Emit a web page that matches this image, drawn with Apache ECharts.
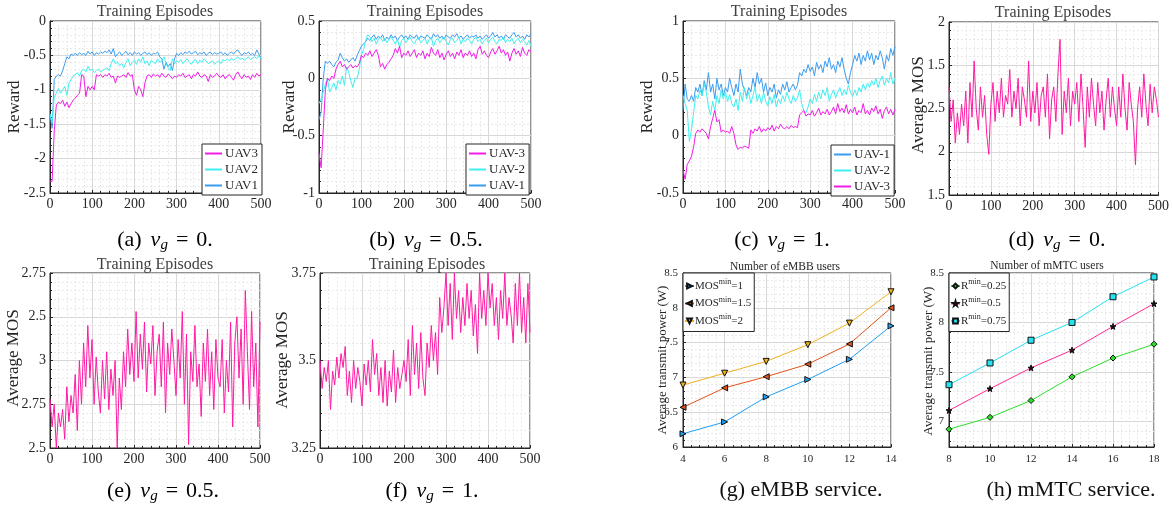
<!DOCTYPE html>
<html>
<head>
<meta charset="utf-8">
<script src="https://cdn.jsdelivr.net/npm/echarts@6/dist/echarts.min.js"></script>
<style>
  html, body { margin: 0; background: #fff; }
  #chart { width: 1172px; height: 512px; }
</style>
</head>
<body>
<div id="chart"></div>
<script>
// ---- data (one value every 5 episodes) ----
var aUav1 = [-1.35,-1.56,-0.85,-0.80,-0.78,-0.80,-0.72,-0.62,-0.52,-0.55,-0.48,
  -0.50,-0.47,-0.50,-0.46,-0.49,-0.47,-0.50,-0.44,-0.48,-0.45,
  -0.50,-0.46,-0.48,-0.45,-0.47,-0.44,-0.46,-0.42,-0.48,-0.40,
  -0.52,-0.48,-0.45,-0.50,-0.47,-0.44,-0.49,-0.46,-0.50,-0.45,
  -0.48,-0.46,-0.50,-0.47,-0.45,-0.49,-0.46,-0.50,-0.47,-0.48,
  -0.45,-0.52,-0.55,-0.70,-0.60,-0.66,-0.62,-0.72,-0.55,-0.47,
  -0.50,-0.46,-0.49,-0.45,-0.47,-0.44,-0.48,-0.46,-0.44,-0.49,
  -0.46,-0.48,-0.45,-0.50,-0.47,-0.45,-0.49,-0.46,-0.48,-0.47,
  -0.45,-0.49,-0.46,-0.50,-0.47,-0.45,-0.48,-0.44,-0.42,-0.47,
  -0.50,-0.46,-0.48,-0.45,-0.49,-0.47,-0.50,-0.42,-0.48,-0.55];
var aUav2 = [-1.35,-1.48,-1.10,-1.05,-0.98,-1.05,-1.00,-0.95,-1.08,-0.90,-0.85,
  -0.80,-0.78,-0.75,-0.80,-0.72,-0.70,-0.74,-0.66,-0.72,-0.70,
  -0.75,-0.72,-0.70,-0.74,-0.72,-0.70,-0.68,-0.72,-0.62,-0.55,
  -0.62,-0.60,-0.65,-0.62,-0.68,-0.60,-0.55,-0.65,-0.60,-0.57,
  -0.63,-0.55,-0.60,-0.52,-0.62,-0.58,-0.65,-0.57,-0.60,-0.62,
  -0.55,-0.60,-0.58,-0.52,-0.62,-0.68,-0.72,-0.55,-0.62,-0.58,
  -0.60,-0.56,-0.62,-0.58,-0.55,-0.60,-0.63,-0.58,-0.56,-0.62,
  -0.57,-0.60,-0.55,-0.58,-0.62,-0.60,-0.58,-0.63,-0.60,-0.58,
  -0.62,-0.56,-0.58,-0.55,-0.58,-0.54,-0.57,-0.55,-0.52,-0.56,
  -0.54,-0.57,-0.55,-0.52,-0.56,-0.54,-0.52,-0.55,-0.50,-0.55];
var aUav3 = [-2.33,-2.33,-1.60,-1.22,-1.18,-1.20,-1.15,-1.24,-1.18,-1.26,-1.20,
  -1.15,-1.12,-1.08,-1.05,-0.78,-0.80,-1.10,-0.95,-1.00,-0.95,
  -1.00,-0.78,-0.80,-0.78,-0.82,-0.78,-0.80,-0.76,-0.82,-0.80,
  -0.90,-0.80,-0.82,-0.80,-0.78,-0.82,-0.75,-0.80,-0.78,-1.00,
  -1.08,-0.95,-1.00,-1.10,-0.90,-0.80,-0.78,-0.82,-0.77,-0.80,
  -0.78,-0.82,-0.76,-0.80,-0.82,-0.77,-0.80,-0.84,-0.80,-0.82,
  -0.78,-0.80,-0.76,-0.82,-0.80,-0.78,-0.84,-0.78,-0.80,-0.74,
  -0.80,-0.82,-0.78,-0.80,-0.88,-0.78,-0.82,-0.80,-0.76,-0.80,
  -0.82,-0.78,-0.84,-0.80,-0.78,-0.82,-0.86,-0.78,-0.74,-0.80,
  -0.84,-0.78,-0.82,-0.80,-0.85,-0.78,-0.82,-0.76,-0.80,-0.78];

var bUav1 = [-0.36,-0.30,0.00,0.15,0.13,0.15,0.12,0.10,0.14,0.16,0.22,
  0.18,0.15,0.17,0.14,0.16,0.18,0.15,0.20,0.24,0.28,
  0.30,0.32,0.35,0.33,0.36,0.38,0.34,0.37,0.35,0.38,
  0.33,0.36,0.34,0.38,0.35,0.37,0.33,0.36,0.38,0.35,
  0.37,0.34,0.38,0.36,0.35,0.38,0.34,0.37,0.36,0.35,
  0.38,0.36,0.34,0.39,0.36,0.38,0.35,0.37,0.34,0.38,
  0.36,0.35,0.38,0.36,0.39,0.35,0.37,0.34,0.36,0.38,
  0.35,0.37,0.36,0.38,0.35,0.37,0.34,0.36,0.38,0.35,
  0.37,0.40,0.36,0.38,0.35,0.37,0.34,0.38,0.36,0.35,
  0.38,0.40,0.36,0.38,0.35,0.37,0.34,0.38,0.36,0.39];
var bUav2 = [-0.22,-0.18,-0.12,-0.05,0.00,-0.12,-0.08,-0.04,-0.10,-0.02,-0.05,
  0.02,-0.06,0.10,0.05,-0.02,-0.08,0.00,0.00,0.08,0.20,
  0.25,0.33,0.38,0.36,0.32,0.35,0.30,0.34,0.36,0.32,
  0.35,0.31,0.34,0.36,0.33,0.30,0.34,0.27,0.33,0.35,
  0.31,0.34,0.36,0.32,0.30,0.34,0.36,0.31,0.33,0.35,
  0.30,0.34,0.36,0.28,0.33,0.35,0.31,0.34,0.36,0.32,
  0.29,0.34,0.35,0.31,0.33,0.36,0.30,0.34,0.32,0.35,
  0.33,0.30,0.34,0.36,0.32,0.34,0.30,0.33,0.35,0.31,
  0.34,0.36,0.32,0.30,0.34,0.33,0.36,0.31,0.34,0.32,
  0.35,0.30,0.33,0.35,0.31,0.34,0.32,0.29,0.33,0.28];
var bUav3 = [-0.65,-0.78,-0.45,-0.10,0.00,-0.02,0.02,0.00,0.08,0.12,0.15,
  0.10,0.12,0.08,0.10,0.12,0.09,0.11,0.10,0.13,0.20,
  0.18,0.22,0.20,0.24,0.19,0.22,0.25,0.20,0.10,0.13,
  0.08,0.12,0.14,0.17,0.20,0.26,0.22,0.28,0.18,0.22,
  0.20,0.24,0.19,0.22,0.25,0.18,0.22,0.20,0.24,0.17,
  0.22,0.19,0.27,0.22,0.20,0.25,0.18,0.22,0.16,0.21,
  0.24,0.19,0.22,0.17,0.23,0.20,0.25,0.18,0.22,0.20,
  0.24,0.19,0.22,0.17,0.25,0.28,0.21,0.24,0.20,0.18,
  0.23,0.26,0.21,0.24,0.28,0.22,0.25,0.20,0.23,0.15,
  0.22,0.26,0.21,0.24,0.19,0.27,0.22,0.20,0.25,0.23];

var cUav1 = [0.22,0.45,0.32,0.30,0.35,0.30,0.42,0.38,0.45,0.35,0.48,
  0.40,0.55,0.38,0.45,0.32,0.50,0.40,0.45,0.35,0.42,
  0.38,0.50,0.42,0.35,0.45,0.38,0.58,0.45,0.40,0.35,
  0.42,0.38,0.50,0.42,0.55,0.45,0.50,0.38,0.46,0.35,
  0.42,0.38,0.45,0.33,0.40,0.36,0.45,0.40,0.47,0.38,
  0.42,0.45,0.40,0.44,0.55,0.52,0.58,0.55,0.62,0.56,
  0.60,0.52,0.64,0.58,0.62,0.55,0.65,0.60,0.68,0.58,
  0.62,0.55,0.65,0.60,0.68,0.58,0.50,0.45,0.55,0.62,
  0.70,0.65,0.72,0.62,0.70,0.65,0.74,0.66,0.72,0.62,
  0.70,0.66,0.74,0.68,0.58,0.70,0.65,0.76,0.70,0.78];
var cUav2 = [0.35,0.28,0.22,-0.05,0.05,0.20,0.35,0.32,0.40,0.35,0.45,
  0.38,0.25,0.18,0.30,0.22,0.35,0.28,0.40,0.32,0.38,
  0.30,0.36,0.28,0.25,0.32,0.22,0.38,0.30,0.42,0.32,
  0.38,0.28,0.35,0.42,0.30,0.36,0.28,0.38,0.30,0.26,
  0.34,0.28,0.36,0.25,0.32,0.28,0.35,0.30,0.38,0.32,
  0.28,0.35,0.30,0.33,0.40,0.28,0.22,0.20,0.25,0.32,
  0.28,0.36,0.30,0.38,0.32,0.40,0.35,0.42,0.30,0.36,
  0.40,0.33,0.38,0.42,0.35,0.40,0.36,0.44,0.38,0.34,
  0.40,0.35,0.42,0.38,0.45,0.40,0.46,0.42,0.48,0.44,
  0.50,0.42,0.48,0.52,0.44,0.50,0.46,0.55,0.45,0.50];
var cUav3 = [-0.30,-0.38,-0.25,-0.22,-0.18,-0.10,0.02,0.05,0.03,0.06,0.04,
  0.02,-0.03,0.08,0.15,0.22,0.12,0.14,0.03,0.05,0.03,
  0.04,0.02,0.08,0.02,-0.08,-0.12,-0.10,-0.11,-0.09,-0.10,
  -0.11,0.05,0.02,0.06,0.04,0.08,0.03,0.06,0.04,0.07,
  0.05,0.09,0.04,0.08,0.06,0.10,0.07,0.06,0.08,0.06,
  0.09,0.07,0.08,0.07,0.18,0.20,0.22,0.17,0.19,0.18,
  0.22,0.17,0.20,0.24,0.18,0.21,0.19,0.23,0.18,0.21,
  0.25,0.19,0.28,0.21,0.24,0.20,0.27,0.19,0.23,0.20,
  0.25,0.18,0.22,0.20,0.28,0.19,0.22,0.18,0.24,0.21,
  0.26,0.19,0.23,0.15,0.22,0.25,0.19,0.23,0.18,0.23];

var dMos = [2.75,2.35,2.60,2.10,2.45,2.20,2.55,2.30,2.70,2.10,2.80,
  2.40,3.05,2.50,2.25,2.75,2.40,2.65,2.20,1.97,2.55,
  2.80,2.35,2.70,2.45,2.85,2.40,2.65,2.55,2.95,2.40,
  2.70,2.50,2.85,2.30,2.75,2.60,2.40,3.05,2.35,2.70,
  2.45,2.80,2.30,2.65,2.75,2.40,2.90,2.15,2.60,2.75,
  2.35,2.90,3.30,2.20,2.70,2.45,2.85,2.30,2.70,2.55,
  2.80,2.35,2.90,2.50,2.05,2.75,2.40,2.85,2.55,2.30,
  2.80,2.45,2.70,2.25,2.60,2.85,2.40,2.75,2.50,2.30,
  2.75,2.40,2.90,2.50,2.25,2.80,2.55,2.35,1.85,2.50,
  2.75,2.40,2.90,2.55,2.30,2.78,2.45,2.75,2.60,2.40];
var eMos = [2.78,2.62,2.75,2.50,2.70,2.62,2.72,2.55,2.85,2.65,2.80,
  2.70,2.92,2.60,3.00,2.75,3.10,2.85,3.20,2.90,3.12,
  2.75,3.02,2.82,2.70,3.00,2.78,3.05,2.72,2.95,2.80,
  3.00,2.50,2.90,2.72,3.05,2.85,3.18,2.92,3.10,2.88,
  3.28,2.90,3.15,2.95,3.22,2.82,3.10,2.98,3.20,2.80,
  3.05,3.15,2.85,3.22,2.70,3.10,2.92,3.18,3.00,2.80,
  3.12,2.90,3.28,2.75,3.15,2.52,3.05,2.88,3.20,2.85,
  2.98,2.68,3.10,2.88,3.18,2.80,3.05,2.72,3.12,2.90,
  2.85,3.12,2.70,3.00,2.82,3.22,2.62,3.10,3.25,2.90,
  3.18,2.75,3.40,3.05,2.72,3.28,2.85,3.10,2.62,3.22];
var fMos = [3.50,3.42,3.48,3.44,3.50,3.36,3.47,3.43,3.51,3.45,3.52,
  3.48,3.54,3.40,3.47,3.38,3.50,3.42,3.48,3.44,3.37,
  3.49,3.43,3.50,3.41,3.56,3.46,3.52,3.40,3.48,3.38,
  3.50,3.37,3.47,3.41,3.53,3.38,3.48,3.42,3.46,3.50,
  3.44,3.56,3.40,3.60,3.46,3.55,3.42,3.58,3.45,3.40,
  3.55,3.48,3.60,3.50,3.58,3.46,3.68,3.58,3.65,3.75,
  3.60,3.72,3.56,3.75,3.62,3.70,3.58,3.68,3.60,3.72,
  3.62,3.70,3.57,3.66,3.52,3.75,3.62,3.70,3.60,3.75,
  3.65,3.72,3.60,3.68,3.56,3.70,3.62,3.75,3.60,3.68,
  3.63,3.55,3.72,3.60,3.75,3.58,3.68,3.55,3.72,3.58];

// tick labels of the MOS panels exactly as printed in the figure
var dTickLabels = ['1.5', '2', '2.5', '1.5', '2'];
var eTickLabels = ['2.5', '2.75', '3', '2.5', '2.75'];

var gUsers = [4, 6, 8, 10, 12, 14];
var gMos1 = [6.19, 6.36, 6.72, 6.97, 7.26, 7.74];
var gMos15 = [6.57, 6.85, 7.01, 7.19, 7.48, 8.00];
var gMos2 = [6.89, 7.06, 7.23, 7.47, 7.78, 8.23];

var hUsers = [8, 10, 12, 14, 16, 18];
var hR025 = [6.92, 7.04, 7.21, 7.45, 7.64, 7.78];
var hR05 = [7.11, 7.33, 7.54, 7.72, 7.96, 8.19];
var hR075 = [7.37, 7.59, 7.82, 8.00, 8.26, 8.46];

// ---- helpers ----
var FONT = '"Liberation Serif", "DejaVu Serif", serif';
var AX = '#262626';
var C_BLUE = '#3a9cf0', C_CYAN = '#3ff0f0', C_MAG = '#f21ce6', C_PINK = '#ff1aa3';

function toPairs(vals) {
  return vals.map(function (v, i) { return [i * 500 / (vals.length - 1), v]; });
}
function zip(xs, ys) {
  return xs.map(function (x, i) { return [x, ys[i]]; });
}

function valAxis(grid, min, max, interval, extra) {
  var ax = {
    type: 'value', gridIndex: grid, min: min, max: max, interval: interval,
    axisLine: { show: true, onZero: false, lineStyle: { color: AX, width: 1 } },
    axisTick: { show: true, inside: true, length: 3, lineStyle: { color: AX } },
    minorTick: { show: true, splitNumber: 5, length: 2, lineStyle: { color: AX } },
    axisLabel: { fontFamily: FONT, fontSize: 14, color: AX, margin: 4 },
    splitLine: { show: true, lineStyle: { color: '#d8d8d8', width: 1 } },
    minorSplitLine: { show: true, lineStyle: { color: '#e9e9e9', width: 1, type: [2, 2] } }
  };
  return Object.assign(ax, extra || {});
}

function line(name, grid, data, color, extra) {
  return Object.assign({
    type: 'line', name: name, xAxisIndex: grid, yAxisIndex: grid, data: data,
    symbol: 'none', showSymbol: false, animation: false, silent: true,
    lineStyle: { color: color, width: 1 }, itemStyle: { color: color }
  }, extra || {});
}

function uavLegend(names, left, top) {
  return {
    data: names, orient: 'vertical', left: left, top: top, selectedMode: false,
    icon: 'rect', itemWidth: 17, itemHeight: 2, itemGap: 3,
    padding: [3, 4, 3, 3], backgroundColor: '#fff', borderColor: AX, borderWidth: 1, borderRadius: 0,
    textStyle: { fontFamily: FONT, fontSize: 13, color: AX, padding: [0, 0, 0, -2] }
  };
}

function yName(x, y, text, size) {
  return { type: 'text', x: x, y: y, rotation: Math.PI / 2,
    style: { text: text, fill: AX, font: size + 'px ' + FONT, align: 'center', verticalAlign: 'middle' } };
}
function topTitle(x, y, text, size, color) {
  return { type: 'text', x: x, y: y,
    style: { text: text, fill: color, font: size + 'px ' + FONT, align: 'center', verticalAlign: 'middle' } };
}
var capRich = {
  n: { fontFamily: FONT, fontSize: 22, color: '#111' },
  i: { fontFamily: FONT, fontSize: 22, fontStyle: 'italic', color: '#111', padding: [0, 0, 0, 9] },
  s: { fontFamily: FONT, fontSize: 15, fontStyle: 'italic', color: '#111', padding: [10, 0, 0, 0] },
  q: { fontFamily: FONT, fontSize: 22, color: '#111', padding: [0, 8, 0, 8] }
};
function caption(x, y, letter, val) {
  return { type: 'text', x: x, y: y,
    style: { text: '{n|(' + letter + ')}{i|ν}{s|g}{q|=}{n|' + val + '}', rich: capRich,
      align: 'center', verticalAlign: 'middle' } };
}
function plainCaption(x, y, text) {
  return { type: 'text', x: x, y: y,
    style: { text: text, fill: '#111', font: '22px ' + FONT, align: 'center', verticalAlign: 'middle' } };
}

// ---- grids: a b c d / e f g h ----
var grids = [
  { left: 50, top: 21, width: 211, height: 172 },
  { left: 319, top: 21, width: 212, height: 172 },
  { left: 683, top: 21, width: 212, height: 172 },
  { left: 949, top: 22, width: 210, height: 173 },
  { left: 50, top: 273, width: 210, height: 175 },
  { left: 320, top: 273, width: 210, height: 175 },
  { left: 683, top: 273, width: 208, height: 174 },
  { left: 949, top: 273, width: 205, height: 174 }
].map(function (g) {
  return Object.assign({ show: true, borderColor: AX, borderWidth: 1, backgroundColor: 'transparent' }, g);
});

var smallLbl = { fontFamily: FONT, fontSize: 11, color: AX, margin: 5 };

var xAxes = [0, 1, 2, 3, 4, 5].map(function (g) { return valAxis(g, 0, 500, 100); });
xAxes.push(valAxis(6, 4, 14, 2, { axisLabel: Object.assign({}, smallLbl, { margin: 7 }) }));
xAxes.push(valAxis(7, 8, 18, 2, { axisLabel: Object.assign({}, smallLbl, { margin: 7 }) }));

var yAxes = [
  valAxis(0, -2.5, 0, 0.5),
  valAxis(1, -1, 0.5, 0.5),
  valAxis(2, -0.5, 1, 0.5),
  valAxis(3, 1.5, 3.5, 0.5, { axisLabel: { fontFamily: FONT, fontSize: 14, color: AX, margin: 4,
    formatter: function (v) { return dTickLabels[Math.round((v - 1.5) / 0.5)]; } } }),
  valAxis(4, 2.5, 3.5, 0.25, { axisLabel: { fontFamily: FONT, fontSize: 14, color: AX, margin: 4,
    formatter: function (v) { return eTickLabels[Math.round((v - 2.5) / 0.25)]; } } }),
  valAxis(5, 3.25, 3.75, 0.25),
  valAxis(6, 6, 8.5, 0.5, { axisLabel: smallLbl }),
  valAxis(7, 6.74, 8.5, null, { splitNumber: 4,
    axisLabel: Object.assign({ showMinLabel: false }, smallLbl) })
];

var series = [
  line('UAV1', 0, toPairs(aUav1), C_BLUE),
  line('UAV2', 0, toPairs(aUav2), C_CYAN),
  line('UAV3', 0, toPairs(aUav3), C_MAG),
  line('UAV-1', 1, toPairs(bUav1), C_BLUE),
  line('UAV-2', 1, toPairs(bUav2), C_CYAN),
  line('UAV-3', 1, toPairs(bUav3), C_MAG),
  line('UAV-1', 2, toPairs(cUav1), C_BLUE),
  line('UAV-2', 2, toPairs(cUav2), C_CYAN),
  line('UAV-3', 2, toPairs(cUav3), C_MAG),
  line('d', 3, toPairs(dMos), C_PINK),
  line('e', 4, toPairs(eMos), C_PINK),
  line('f', 5, toPairs(fMos), C_PINK)
];

function markLine(name, grid, xs, ys, color, symbol, rot, fill) {
  return line(name, grid, zip(xs, ys), color, {
    symbol: symbol, showSymbol: true, symbolSize: 6, symbolRotate: rot,
    itemStyle: { color: fill || color, borderColor: '#111', borderWidth: 1 }
  });
}
var STAR = 'path://M50,0 L61,35 L98,35 L68,57 L79,91 L50,70 L21,91 L32,57 L2,35 L39,35 Z';
series.push(markLine('MOS1', 6, gUsers, gMos1, '#1ea0f5', 'triangle', -90));
series.push(markLine('MOS15', 6, gUsers, gMos15, '#e0531a', 'triangle', 90));
series.push(markLine('MOS2', 6, gUsers, gMos2, '#f0b21e', 'triangle', 180));
series.push(markLine('R025', 7, hUsers, hR025, '#2be02b', 'diamond', 0));
series.push(markLine('R05', 7, hUsers, hR05, '#ff2a8f', STAR, 0, '#111'));
series.push(markLine('R075', 7, hUsers, hR075, '#25e3f0', 'rect', 0));

var legendNames = {
  MOS1: '{m|MOS}{s|min}{m|=1}', MOS15: '{m|MOS}{s|min}{m|=1.5}', MOS2: '{m|MOS}{s|min}{m|=2}',
  R025: '{m|R}{s|min}{m|=0.25}', R05: '{m|R}{s|min}{m|=0.5}', R075: '{m|R}{s|min}{m|=0.75}'
};
function qosLegend(names, left, top) {
  return {
    data: names, orient: 'vertical', left: left, top: top, selectedMode: false,
    itemWidth: 9, itemHeight: 6, itemGap: 4,
    padding: [5, 3, 5, 1], backgroundColor: '#fff', borderColor: AX, borderWidth: 1, borderRadius: 0,
    formatter: function (n) { return legendNames[n]; },
    textStyle: { fontFamily: FONT, fontSize: 11, color: AX, padding: [0, 0, 0, -4],
      rich: {
        m: { fontFamily: FONT, fontSize: 11, color: AX },
        s: { fontFamily: FONT, fontSize: 8, color: AX, padding: [0, 0, 8, 0] }
      } }
  };
}

var legends = [
  uavLegend(['UAV3', 'UAV2', 'UAV1'], 202, 144),
  uavLegend(['UAV-3', 'UAV-2', 'UAV-1'], 466, 144),
  uavLegend(['UAV-1', 'UAV-2', 'UAV-3'], 831, 145),
  qosLegend(['MOS1', 'MOS15', 'MOS2'], 683, 273),
  qosLegend(['R025', 'R05', 'R075'], 949, 273)
];

var graphics = [
  topTitle(155, 12, 'Training Episodes', 16, '#404040'),
  topTitle(425, 12, 'Training Episodes', 16, '#404040'),
  topTitle(789, 12, 'Training Episodes', 16, '#404040'),
  topTitle(1053, 13, 'Training Episodes', 16, '#404040'),
  topTitle(155, 265, 'Training Episodes', 16, '#404040'),
  topTitle(427, 265, 'Training Episodes', 16, '#404040'),
  topTitle(785, 267, 'Number of eMBB users', 11.5, AX),
  topTitle(1047, 266, 'Number of mMTC users', 11.5, AX),
  yName(15, 107, 'Reward', 17),
  yName(290, 107, 'Reward', 17),
  yName(648, 107, 'Reward', 17),
  yName(919, 105, 'Average MOS', 17),
  yName(14, 358, 'Average MOS', 17),
  yName(283, 360, 'Average MOS', 17),
  yName(663, 360, 'Average transmit power (W)', 13),
  yName(929, 361, 'Average transmit power (W)', 13),
  caption(165, 240, 'a', '0.'),
  caption(426, 240, 'b', '0.5.'),
  caption(782, 240, 'c', '1.'),
  caption(1057, 240, 'd', '0.'),
  caption(163, 491, 'e', '0.5.'),
  caption(432, 491, 'f', '1.'),
  plainCaption(801, 490, '(g) eMBB service.'),
  plainCaption(1071, 490, '(h) mMTC service.')
];

var chart = echarts.init(document.getElementById('chart'), null, { renderer: 'canvas' });
chart.setOption({
  animation: false,
  backgroundColor: '#fff',
  grid: grids,
  xAxis: xAxes,
  yAxis: yAxes,
  legend: legends,
  series: series,
  graphic: graphics
});
</script>
</body>
</html>
